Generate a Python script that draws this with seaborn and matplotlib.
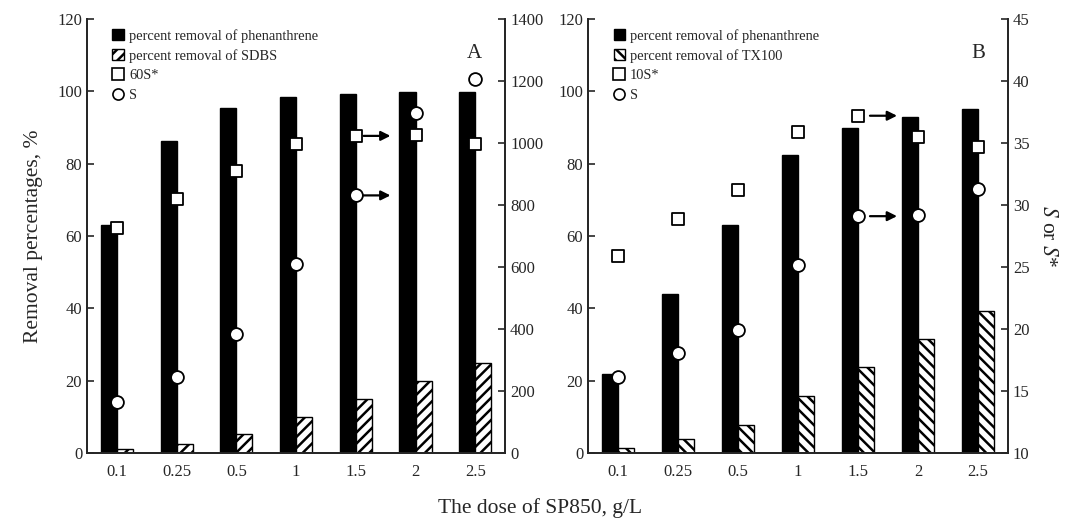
import matplotlib
matplotlib.use('Agg')
import matplotlib.pyplot as plt
from matplotlib.patches import Patch
from matplotlib.lines import Line2D
import numpy as np
import pandas as pd
import seaborn as sns

sns.set_style("ticks")
plt.rcParams['font.family'] = ['Liberation Serif', 'DejaVu Serif']
plt.rcParams['mathtext.fontset'] = 'stix'
plt.rcParams['hatch.linewidth'] = 1.8

doses = ['0.1', '0.25', '0.5', '1', '1.5', '2', '2.5']

# panel A (SDBS)
a_phen = [63.0, 86.3, 95.5, 98.5, 99.4, 99.7, 99.9]
a_sdbs = [1.0, 2.6, 5.3, 10.0, 15.0, 20.0, 25.0]
a_60s_star = [725, 820, 911, 996, 1023, 1027, 996]
a_s = [163, 246, 383, 610, 831, 1098, 1206]

# panel B (TX100)
b_phen = [21.8, 43.9, 63.0, 82.4, 89.8, 93.0, 95.0]
b_tx100 = [1.5, 3.9, 7.8, 15.8, 23.7, 31.6, 39.2]
b_10s_star = [25.9, 28.9, 31.2, 35.9, 37.2, 35.5, 34.7]
b_s = [16.15, 18.1, 19.9, 25.2, 29.1, 29.2, 31.3]

fig = plt.figure(figsize=(10.72, 5.28), dpi=100)
ax_a = fig.add_axes([0.0812, 0.142, 0.3900, 0.822])
ax_b = fig.add_axes([0.5485, 0.142, 0.3918, 0.822])


def draw_panel(ax, phen, surf, surf_name, star, star_name, s_vals, hatch,
               ylim2, yticks2, letter, arrow_off):
    df = pd.DataFrame({'dose': doses * 2,
                       'value': phen + surf,
                       'series': ['phen'] * len(doses) + ['surf'] * len(doses)})
    sns.barplot(data=df, x='dose', y='value', hue='series', order=doses,
                hue_order=['phen', 'surf'], palette=['black', 'white'],
                edgecolor='black', linewidth=1.0, width=0.54, gap=0,
                legend=False, ax=ax)
    for bar in ax.containers[1]:
        bar.set_hatch(hatch)

    ax2 = ax.twinx()
    pos = np.arange(len(doses))
    sns.scatterplot(x=pos, y=star, ax=ax2, marker='s', s=70, color='white',
                    edgecolor='black', linewidth=1.3, zorder=5)
    sns.scatterplot(x=pos, y=s_vals, ax=ax2, marker='o', s=85, color='white',
                    edgecolor='black', linewidth=1.3, zorder=5)

    # arrows show which axis the markers belong to
    i = doses.index('1.5')
    for vals in (star, s_vals):
        ax2.annotate('', xy=(i + arrow_off[1], vals[i]), xytext=(i + arrow_off[0], vals[i]),
                     arrowprops=dict(arrowstyle='-|>', color='black', lw=1.6,
                                     mutation_scale=14, shrinkA=0, shrinkB=0))

    ax.set_xlim(-0.5, len(doses) - 0.5)
    ax.set_ylim(0, 120)
    ax.set_yticks(np.arange(0, 121, 20))
    ax2.set_ylim(*ylim2)
    ax2.set_yticks(yticks2)
    ax.set_xlabel('')
    ax.set_ylabel('')
    ax2.set_xlabel('')
    ax2.set_ylabel('')

    for a in (ax, ax2):
        a.spines['top'].set_visible(False)
        for sp in a.spines.values():
            sp.set_linewidth(1.3)
        a.tick_params(axis='y', direction='in', length=5, width=1.2, labelsize=12)
        a.tick_params(axis='x', length=0, labelsize=12, pad=8)

    handles = [Patch(facecolor='black', edgecolor='black'),
               Patch(facecolor='white', edgecolor='black', hatch=hatch),
               Line2D([], [], marker='s', ls='none', mfc='white', mec='black', ms=8, mew=1.2),
               Line2D([], [], marker='o', ls='none', mfc='white', mec='black', ms=8, mew=1.2)]
    labels = ['percent removal of phenanthrene', 'percent removal of ' + surf_name,
              star_name, 'S']
    ax.legend(handles, labels, loc='upper left', bbox_to_anchor=(0.047, 0.99),
              frameon=False, fontsize=10.4, handlelength=0.8, handleheight=0.8,
              handletextpad=0.35, labelspacing=0.42, borderaxespad=0)
    ax.text(0.945, 0.92, letter, transform=ax.transAxes, ha='right', va='center',
            fontsize=15)
    return ax2


ax_a2 = draw_panel(ax_a, a_phen, a_sdbs, 'SDBS', a_60s_star, '60S*', a_s, '///',
                   (0, 1400), np.arange(0, 1401, 200), 'A', (0.13, 0.58))
ax_b2 = draw_panel(ax_b, b_phen, b_tx100, 'TX100', b_10s_star, '10S*', b_s, '\\\\\\',
                   (10, 45), np.arange(10, 46, 5), 'B', (0.2, 0.65))

ax_a.set_ylabel('Removal percentages, %', fontsize=15.5, labelpad=10)
ax_b2.set_ylabel(r'$S$ or $S$*', fontsize=15.5, rotation=270, labelpad=20)
fig.text(0.504, 0.038, 'The dose of SP850, g/L', ha='center', va='center', fontsize=15.5)

fig.savefig('out.png', dpi=100)
